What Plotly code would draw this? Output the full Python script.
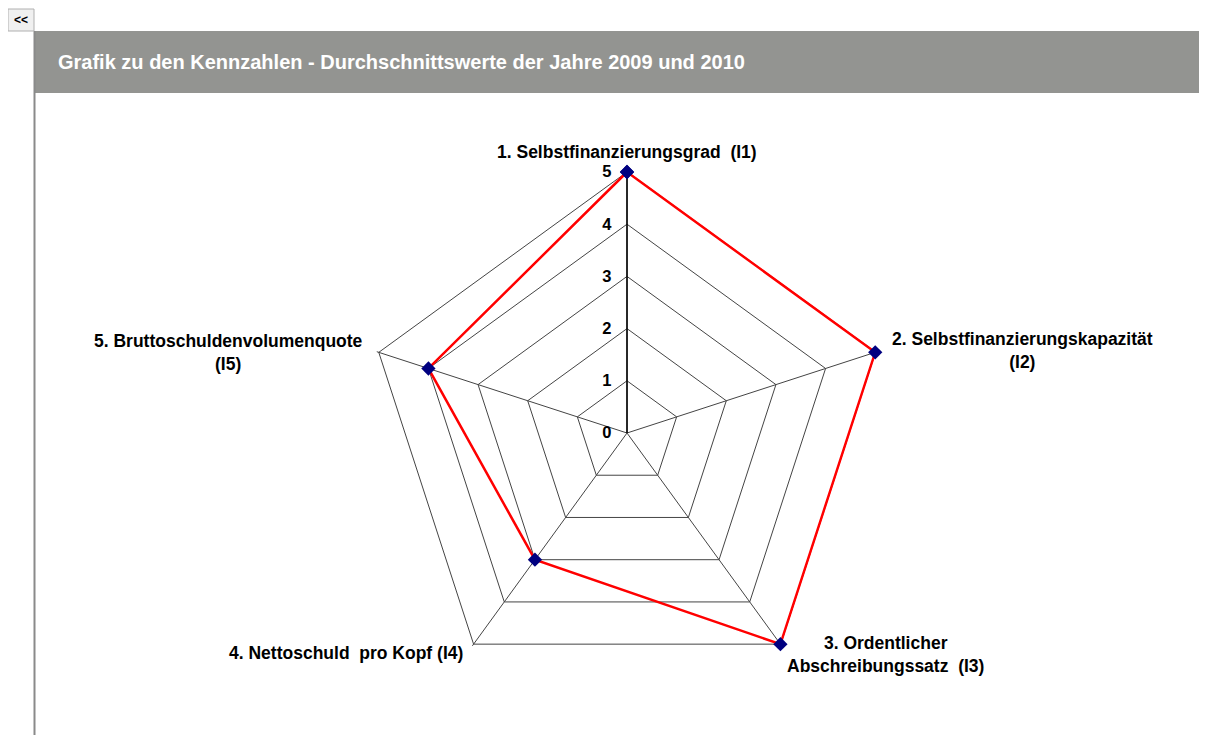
import plotly.graph_objects as go

# the page body has an 8px margin, so the figure starts at (8, 8)
OFF = 8
W, H = 1207 - OFF, 735 - OFF

axes = ["I1", "I2", "I3", "I4", "I5"]
values = [5, 5, 5, 3, 4]
radial_ticks = [0, 1, 2, 3, 4, 5]
axis_labels = [
    "1. Selbstfinanzierungsgrad  (I1)",
    "2. Selbstfinanzierungskapazität<br>(I2)",
    "3. Ordentlicher<br>Abschreibungssatz  (I3)",
    "4. Nettoschuld  pro Kopf (I4)",
    "5. Bruttoschuldenvolumenquote<br>(I5)",
]
title_text = "Grafik zu den Kennzahlen - Durchschnittswerte der Jahre 2009 und 2010"


def px(x):
    return (x - OFF) / W


def py(y):
    return 1 - (y - OFF) / H


fig = go.Figure()
fig.add_trace(go.Scatterpolar(
    r=values + values[:1],
    theta=axes + axes[:1],
    mode="lines+markers",
    line=dict(color="#ff0000", width=2.5),
    marker=dict(symbol="diamond", size=11, color="#000080"),
    cliponaxis=False,
    showlegend=False,
))

# centre of pentagon ~ (627, 433), r=5 at ~261 px; range a bit past 5 so the
# red line on the outer pentagon is not clipped
rmax = 5.04
cx, cy = 627, 433
R = 261 * rmax / 5
fig.update_layout(
    width=W, height=H,
    margin=dict(l=0, r=0, t=0, b=0),
    paper_bgcolor="white",
    font=dict(family="Liberation Sans, Arial", color="black"),
    polar=dict(
        domain=dict(x=[px(cx - R), px(cx + R)], y=[py(cy + R), py(cy - R)]),
        bgcolor="white",
        gridshape="linear",
        radialaxis=dict(
            range=[0, rmax], tickvals=radial_ticks, angle=90, tickangle=90,
            side="counterclockwise", layer="below traces",
            showline=True, linecolor="black", linewidth=1.5,
            gridcolor="#444444", gridwidth=1,
            ticks="outside", ticklen=9, tickcolor="rgba(0,0,0,0)",
            tickfont=dict(size=16.5, weight="bold", color="black"),
        ),
        angularaxis=dict(
            rotation=90, direction="clockwise", layer="below traces",
            showline=False,
            gridcolor="#444444", gridwidth=1,
            showticklabels=False, ticks="",
        ),
    ),
)

# header bar and frame
fig.add_shape(type="rect", xref="paper", yref="paper", x0=px(35), x1=1, y0=py(93), y1=py(31),
              fillcolor="#939491", line=dict(width=0), layer="below")
fig.add_shape(type="line", xref="paper", yref="paper", x0=px(34.5), x1=px(34.5), y0=0, y1=py(31),
              line=dict(color="#8a8a8a", width=2))
fig.add_shape(type="rect", xref="paper", yref="paper", x0=px(8), x1=px(34), y0=py(31), y1=py(9),
              fillcolor="#f0f0f0", line=dict(color="#b0b0b0", width=1))
fig.add_annotation(x=px(21), y=py(20), xref="paper", yref="paper", text="<<", showarrow=False,
                   xanchor="center", yanchor="middle",
                   font=dict(size=12, weight="bold", color="black"))
fig.add_annotation(x=px(56), y=py(62), xref="paper", yref="paper", text=title_text, showarrow=False,
                   xanchor="left", yanchor="middle",
                   font=dict(size=20, weight="bold", color="white"))

label_pos = [(627, 152), (1022, 351), (885, 654), (346, 653), (228, 352)]
for txt, (lx, ly) in zip(axis_labels, label_pos):
    fig.add_annotation(x=px(lx), y=py(ly), xref="paper", yref="paper", text=txt, showarrow=False,
                       xanchor="center", yanchor="middle", align="center",
                       font=dict(size=17.5, weight="bold", color="black"))

fig.write_html("out.html")
